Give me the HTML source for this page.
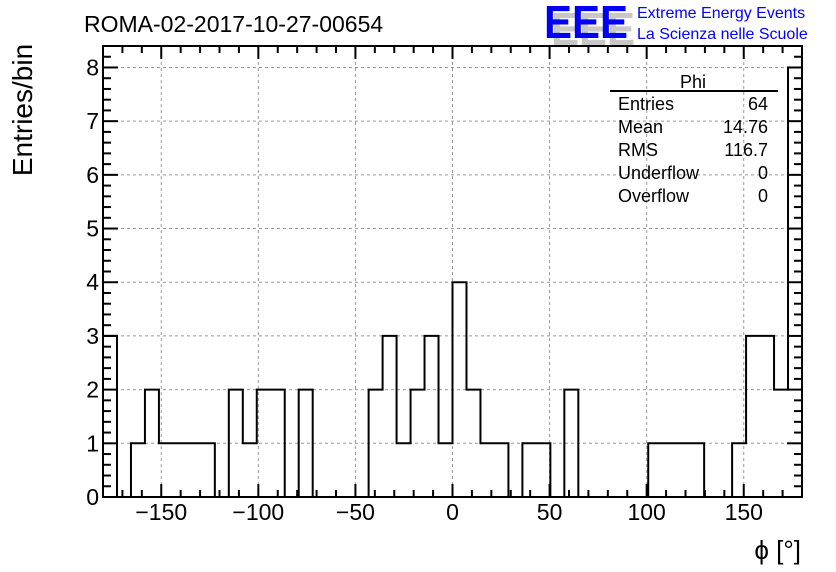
<!DOCTYPE html>
<html><head><meta charset="utf-8"><style>
html,body{margin:0;padding:0;background:#fff;}
svg{display:block;font-family:"Liberation Sans",Arial,sans-serif;}
</style></head><body>
<svg id="chart" width="836" height="572" viewBox="0 0 836 572">
<rect width="836" height="572" fill="#fff"/>
<text x="84" y="32" font-size="23" fill="#000">ROMA-02-2017-10-27-00654</text>
<g>
<text x="551" y="45" font-size="46" font-weight="bold" fill="#c8c8c8" textLength="84" lengthAdjust="spacingAndGlyphs">EEE</text>
<text x="544" y="38" font-size="46" font-weight="bold" fill="#0000ff" textLength="84" lengthAdjust="spacingAndGlyphs">EEE</text>
<text x="637" y="18" font-size="16" fill="#0000ff">Extreme Energy Events</text>
<text x="637" y="39" font-size="16" fill="#0000ff">La Scienza nelle Scuole</text>
</g>
<g id="grid"></g>
<g id="hist"></g>
<g id="axes"></g>
<text transform="translate(32,110) rotate(-90)" text-anchor="middle" font-size="28" fill="#000">Entries/bin</text>
<text x="801" y="559" text-anchor="end" font-size="26" fill="#000">ϕ [°]</text>
<g font-size="18" fill="#000">
<text x="693" y="88" text-anchor="middle">Phi</text>
<line x1="610" y1="91" x2="778" y2="91" stroke="#000" stroke-width="2"/>
<text x="618" y="110">Entries</text><text x="768" y="110" text-anchor="end">64</text>
<text x="618" y="133">Mean</text><text x="768" y="133" text-anchor="end">14.76</text>
<text x="618" y="156">RMS</text><text x="768" y="156" text-anchor="end">116.7</text>
<text x="618" y="179">Underflow</text><text x="768" y="179" text-anchor="end">0</text>
<text x="618" y="202">Overflow</text><text x="768" y="202" text-anchor="end">0</text>
</g>
</svg>
<script>
const binLow = -180;
const binWidth = 7.2;
const counts = [3,0,1,2,1,1,1,1,0,2, 1,2,2,0,2,0,0,0,0,2, 3,1,2,3,1,4,2,1,1,0, 1,1,0,2,0,0,0,0,0,1, 1,1,1,0,0,1,3,3,2,8];
const xTicks = [-150,-100,-50,0,50,100,150];
const xTickLabels = ["\u2212150","\u2212100","\u221250","0","50","100","150"];
const yTicks = [0,1,2,3,4,5,6,7,8];
const yTickLabels = ["0","1","2","3","4","5","6","7","8"];

const X0=103, X1=802, Y0=497, Y1=46, xmin=-180, xmax=180, ymin=0, ymax=8.4;
function sx(v){return X0+(v-xmin)/(xmax-xmin)*(X1-X0);}
function sy(v){return Y0-(v-ymin)/(ymax-ymin)*(Y0-Y1);}
const NS="http://www.w3.org/2000/svg";
function mk(tag,attrs,parent){const e=document.createElementNS(NS,tag);for(const k in attrs)e.setAttribute(k,attrs[k]);parent.appendChild(e);return e;}
const grid=document.getElementById('grid'), hist=document.getElementById('hist'), axes=document.getElementById('axes');

xTicks.forEach(function(t){
  const l=mk('line',{x1:sx(t),x2:sx(t),y1:Y0,y2:Y1,stroke:'#999','stroke-dasharray':'3,3','stroke-width':1},grid);
  
  
});
yTicks.forEach(function(t){
  if(t===0)return;
  const l=mk('line',{x1:X0,x2:X1,y1:sy(t),y2:sy(t),stroke:'#999','stroke-dasharray':'3,3','stroke-width':1},grid);
  
  
});

let d='M'+sx(binLow)+','+sy(0);
counts.forEach(function(c,i){
  const a=binLow+i*binWidth, b=a+binWidth;
  d+=' L'+sx(a)+','+sy(c)+' L'+sx(b)+','+sy(c);
});
d+=' L'+sx(binLow+counts.length*binWidth)+','+sy(0);
const p=mk('path',{d:d,fill:'none',stroke:'#000','stroke-width':2},hist);



for(let v=-180; v<=180; v+=10){
  const major=(v%50===0);
  const len=major?13:7;
  mk('line',{x1:sx(v),x2:sx(v),y1:Y0,y2:Y0-len,stroke:'#000','stroke-width':2},axes);
  mk('line',{x1:sx(v),x2:sx(v),y1:Y1,y2:Y1+len,stroke:'#000','stroke-width':2},axes);
}
for(let k=0;k<=42;k++){
  const v=k*0.2, major=(k%5===0), len=major?15:8;
  mk('line',{x1:X0,x2:X0+len,y1:sy(v),y2:sy(v),stroke:'#000','stroke-width':2},axes);
  mk('line',{x1:X1,x2:X1-len,y1:sy(v),y2:sy(v),stroke:'#000','stroke-width':2},axes);
}
const fr=mk('rect',{x:X0,y:Y1,width:X1-X0,height:Y0-Y1,fill:'none',stroke:'#000','stroke-width':2},axes);



xTicks.forEach(function(t,i){
  const tx=mk('text',{x:sx(t),y:520,'text-anchor':'middle','font-size':23,fill:'#000'},axes);
  tx.textContent=xTickLabels[i];
  
  
});
yTicks.forEach(function(t,i){
  const tx=mk('text',{x:99,y:sy(t)+8,'text-anchor':'end','font-size':23,fill:'#000'},axes);
  tx.textContent=yTickLabels[i];
  
  
});
</script>
</body></html>
